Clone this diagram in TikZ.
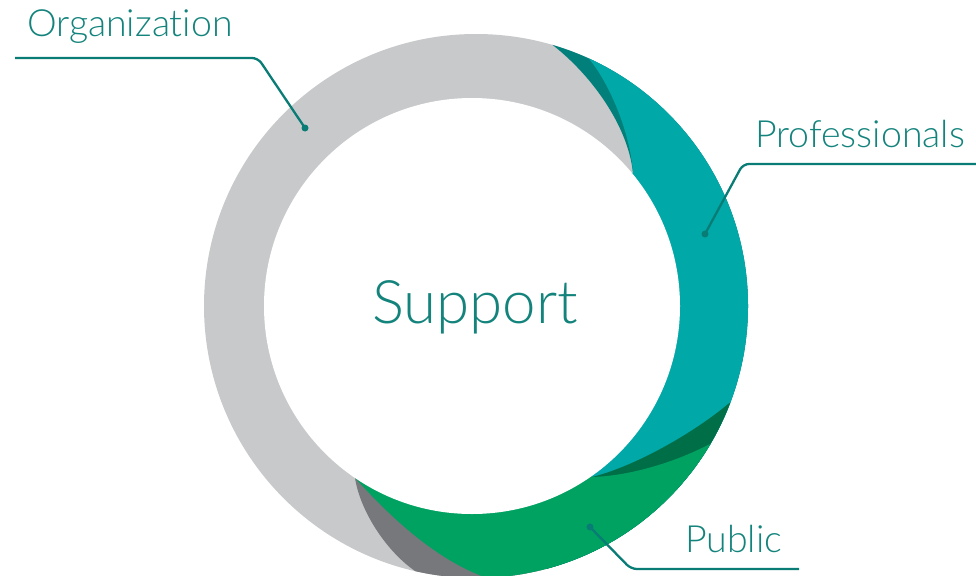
\documentclass[tikz,border=0pt]{standalone}
\usepackage{fontspec}
\setmainfont{Lato Light}[Ligatures=NoCommon, RawFeature={-liga;-dlig;-calt}]
\definecolor{ringgray}{HTML}{C8C9CB}
\definecolor{dkteal}{HTML}{007F7B}
\definecolor{tealband}{HTML}{00A8A8}
\definecolor{dkgreen}{HTML}{006F47}
\definecolor{greenband}{HTML}{00A262}
\definecolor{dkgray}{HTML}{77787B}
\definecolor{txtteal}{HTML}{13837C}
\definecolor{lineteal}{HTML}{0A7C76}
\tikzset{
  leader/.style={draw=lineteal, line width=2.3pt, rounded corners=6pt},
  leaderdot/.style={fill=lineteal},
  lbl/.style={text=txtteal, inner sep=0pt, anchor=base west, font=\fontsize{37.5pt}{40pt}\selectfont},
  bigtxt/.style={text=txtteal, inner sep=0pt, anchor=base, font=\fontsize{60pt}{64pt}\selectfont}
}
\begin{document}
\begin{tikzpicture}[x=1pt,y=-1pt]
\useasboundingbox (0,0) rectangle (976,575);
\begin{scope}
  \clip (476,306) circle[radius=272pt];
  \fill[ringgray] (150,0) rectangle (800,620);
  \fill[dkteal] (472,306) -- (633,173) .. controls (628,125) and (590,73) .. (550,43) -- (525,23) -- (800,-10) -- (800,620) -- (560,620) -- cycle;
  \fill[tealband] (472,306) -- (633,173) .. controls (630,130) and (608,82) .. (590,60) -- (575,40) -- (800,-10) -- (800,620) -- (560,620) -- cycle;
  \fill[dkgreen] (472,306) -- (592,477) .. controls (640,465) and (700,428) .. (728,404) -- (760,385) -- (800,620) -- (560,620) -- cycle;
  \fill[dkgray] (472,306) -- (355,478) .. controls (360,510) and (385,550) .. (415,571) -- (425,600) -- (560,620) -- cycle;
  \fill[greenband] (472,306) -- (355,478) .. controls (380,505) and (435,565) .. (500,582) -- (510,620) -- (800,620) -- (740,432) -- (708,445) .. controls (675,462) and (630,476) .. (592,477) -- cycle;
\end{scope}
\fill[white] (472,306) circle[radius=208pt];

\node[bigtxt] (support) at (475,323) {Support};

\node[lbl] (org) at (27,37) {Organizat\kern0pt ion};
\node[lbl] (prof) at (755,147) {Professionals};
\node[lbl] (pub) at (685,552) {Public};

\coordinate (orgend) at (15,58);
\coordinate (orgcorner) at (258,58);
\coordinate (orgdot) at (305,128);
\draw[leader] (orgend) -- (orgcorner) -- (orgdot);
\fill[leaderdot] (orgdot) circle[radius=3.5pt];

\coordinate (profend) at (976,164);
\coordinate (profcorner) at (743,164);
\coordinate (profdot) at (705,234);
\draw[leader] (profend) -- (profcorner) -- (profdot);
\fill[leaderdot] (profdot) circle[radius=3.5pt];

\coordinate (pubend) at (799,569);
\coordinate (pubcorner) at (631,569);
\coordinate (pubdot) at (590,527);
\draw[leader] (pubend) -- (pubcorner) -- (pubdot);
\fill[leaderdot] (pubdot) circle[radius=3.5pt];
\end{tikzpicture}
\end{document}
